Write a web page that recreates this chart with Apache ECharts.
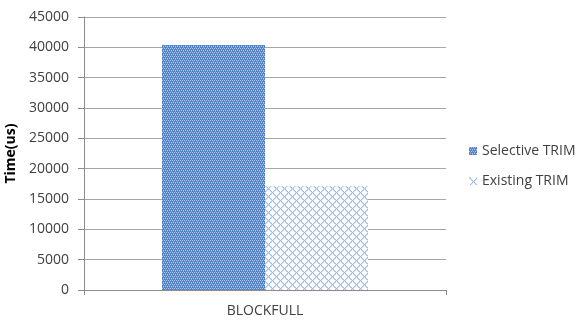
<!DOCTYPE html>
<html>
<head>
<meta charset="utf-8">
<script src="https://cdn.jsdelivr.net/npm/echarts@6/dist/echarts.min.js"></script>
<style>
html,body{margin:0;padding:0;background:#fff;}
#chart{width:580px;height:320px;}
</style>
</head>
<body>
<div id="chart"></div>
<script>
const categories = ['BLOCKFULL'];
const selectiveTrim = [40400];
const existingTrim = [17100];
const seriesNames = ['Selective TRIM', 'Existing TRIM'];
const yAxisTitle = 'Time(us)';

// Dense blue mesh fill
function meshPattern() {
  const c = document.createElement('canvas');
  c.width = 4; c.height = 4;
  const g = c.getContext('2d');
  g.fillStyle = '#5281C4';
  g.fillRect(0, 0, 4, 4);
  g.fillStyle = '#B2C8E8';
  g.fillRect(0, 0, 1, 1);
  g.fillRect(2, 0, 1, 1);
  g.fillRect(1, 2, 1, 1);
  g.fillRect(3, 2, 1, 1);
  g.fillStyle = '#7F9FD5';
  g.fillRect(1, 1, 1, 1);
  g.fillRect(3, 3, 1, 1);
  return c;
}

// Light diamond lattice on white
function latticePattern() {
  const n = 8;
  const c = document.createElement('canvas');
  c.width = n; c.height = n;
  const g = c.getContext('2d');
  g.fillStyle = '#ffffff';
  g.fillRect(0, 0, n, n);
  for (let y = 0; y < n; y++) {
    for (let x = 0; x < n; x++) {
      if ((x + y) % n === 0 || ((x - y) % n + n) % n === 0) {
        g.fillStyle = '#9DB8E2';
        g.fillRect(x, y, 1, 1);
      } else if ((x + y) % n === 1 || ((x - y + 1) % n + n) % n === 0) {
        g.fillStyle = '#D3E0F2';
        g.fillRect(x, y, 1, 1);
      }
    }
  }
  return c;
}

const fontFamily = '"Open Sans", "Noto Sans", sans-serif';
const chart = echarts.init(document.getElementById('chart'), null, { renderer: 'canvas' });
chart.setOption({
  animation: false,
  backgroundColor: '#ffffff',
  textStyle: { fontFamily: fontFamily },
  grid: { left: 84, right: 134, top: 17, bottom: 30, containLabel: false, outerBoundsMode: 'none' },
  legend: {
    orient: 'vertical',
    left: 464,
    top: 139,
    itemWidth: 8,
    itemHeight: 8,
    itemGap: 16,
    icon: 'rect',
    textStyle: { fontSize: 14, color: '#404040', fontFamily: fontFamily },
    data: seriesNames
  },
  xAxis: {
    type: 'category',
    data: categories,
    axisLine: { lineStyle: { color: '#8C8C8C', width: 1 } },
    axisTick: { show: true, length: 5, lineStyle: { color: '#8C8C8C' } },
    axisLabel: { fontSize: 14, color: '#404040', margin: 14, fontFamily: fontFamily }
  },
  yAxis: {
    type: 'value',
    min: 0,
    max: 45000,
    interval: 5000,
    name: yAxisTitle,
    nameLocation: 'middle',
    nameGap: 64,
    nameTextStyle: { fontSize: 14, fontWeight: 'bold', color: '#000', fontFamily: fontFamily },
    axisLine: { show: true, lineStyle: { color: '#8C8C8C' } },
    axisTick: { show: true, length: 6, lineStyle: { color: '#8C8C8C' } },
    axisLabel: {
      fontSize: 14, color: '#404040', margin: 15, fontFamily: fontFamily,
      formatter: function (v) { return String(v); }
    },
    splitLine: { show: true, lineStyle: { color: '#A6A6A6', width: 1 } }
  },
  series: [
    {
      name: seriesNames[0],
      type: 'bar',
      data: selectiveTrim,
      barWidth: 103,
      barGap: '0%',
      itemStyle: { color: { image: meshPattern(), repeat: 'repeat' } }
    },
    {
      name: seriesNames[1],
      type: 'bar',
      data: existingTrim,
      barWidth: 103,
      barGap: '0%',
      itemStyle: { color: { image: latticePattern(), repeat: 'repeat' } }
    }
  ]
});
</script>
</body>
</html>
